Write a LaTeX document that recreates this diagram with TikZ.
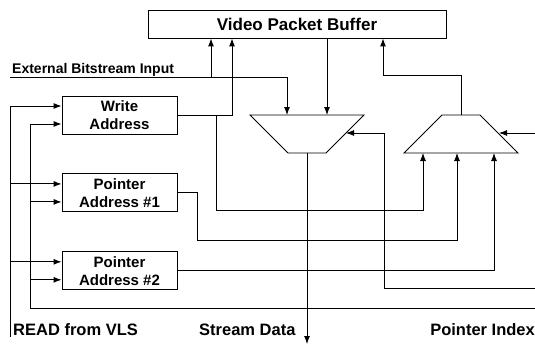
\documentclass[tikz,border=0pt]{standalone}
\usepackage{fontspec}
\setmainfont{Liberation Sans}
\usetikzlibrary{arrows.meta, positioning}

\begin{document}
\begin{tikzpicture}[
			x = 1pt, y = -1pt,
			node distance = 39pt,
			block/.style = {
				draw, line width = 0.9pt, inner sep = 0pt,
				minimum width = 115pt, minimum height = 38pt, align = center,
				font = \fontsize{15}{18}\selectfont\bfseries
			},
			wire/.style = {line width = 0.9pt},
			sig/.style = {wire, -{Latex[length=8pt,width=6pt]}},
			lbl/.style = {inner sep = 0pt, font = \fontsize{16.5}{18}\selectfont\bfseries}]
			\useasboundingbox (0,0) rectangle (535,345);
			\node (buf) [block, minimum width = 298pt, minimum height = 28pt,
			font = \fontsize{17}{20}\selectfont\bfseries] at (297,24) {Video Packet Buffer};
			\node (wa) [block] at (119.5,115) {Write\\Address};
			\node (pa1) [block, below = of wa] {Pointer\\Address \#1};
			\node (pa2) [block, below = of pa1] {Pointer\\Address \#2};
			% the two multiplexers
			\draw [wire] (250,115) -- (364,115) -- (326,153) -- (288,153) -- cycle;
			\draw [wire] (442,115) -- (480,115) -- (518,153) -- (404,153) -- cycle;
			\coordinate (mxa-in1) at (287,115);
			\coordinate (mxa-in2) at (327,115);
			\coordinate (mxa-sel) at (346,133);
			\coordinate (mxa-out) at (307,153);
			\coordinate (mxb-in1) at (423,153);
			\coordinate (mxb-in2) at (457,153);
			\coordinate (mxb-in3) at (494,153);
			\coordinate (mxb-sel) at (499,133);
			\coordinate (mxb-out) at (461,115);
			% inputs of the registers
			\foreach \b in {wa, pa1, pa2} {
				\path ([yshift=9pt]\b.west) coordinate (\b-r)
				([yshift=-9pt]\b.west) coordinate (\b-p);
			}
			\node (ext) [lbl, anchor = base west, font = \fontsize{14}{16}\selectfont\bfseries]
			at (12,74) {External Bitstream Input};
			\node (read) [lbl, anchor = base west] at (13,335) {READ from VLS};
			\node (stream) [lbl, anchor = base west] at (199,335) {Stream Data};
			\node (index) [lbl, anchor = base east] at (535,335) {Pointer Index};
			\coordinate (ext-in) at (10,77);
			\coordinate (ext-tap) at (211,77);
			\coordinate (wa-tap) at (232,115);
			\coordinate (wa-br) at (216,115);
			\coordinate (mxb-up) at (383,75);
			\coordinate (read-in) at (10,337);
			\coordinate (ptr-in) at (535,308);
			\coordinate (ptr-rail) at (30,308);
			\coordinate (idx-in) at (535,133);
			\coordinate (sel-in) at (535,288);
			\coordinate (stream-out) at (307,344);
			\draw [sig] (ext-in) -| (mxa-in1);
			\draw [sig] (ext-tap) -- (ext-tap |- buf.south);
			\draw [sig] (wa.east) -- (wa-tap) -- (wa-tap |- buf.south);
			\draw [sig] (wa-br) -- (216,210) -| (mxb-in1);
			\draw [sig] (pa1.east) -| (197,240) -| (mxb-in2);
			\draw [sig] (pa2.east) -| (mxb-in3);
			\draw [sig] (buf.south -| mxa-in2) -- (mxa-in2);
			\draw [sig] (mxb-out) |- (mxb-up) -- (mxb-up |- buf.south);
			\draw [sig] (idx-in) -- (mxb-sel);
			\draw [sig] (sel-in) -- (384,288) |- (mxa-sel);
			\draw [sig] (mxa-out) -- (stream-out);
			\draw [sig] (read-in) |- (wa-r);
			\draw [sig] (ptr-in) -- (ptr-rail) |- (wa-p);
			\foreach \b in {pa1, pa2} {
				\draw [sig] (read-in |- \b-r) -- (\b-r);
				\draw [sig] (ptr-rail |- \b-p) -- (\b-p);
			}
		\end{tikzpicture}
\end{document}
